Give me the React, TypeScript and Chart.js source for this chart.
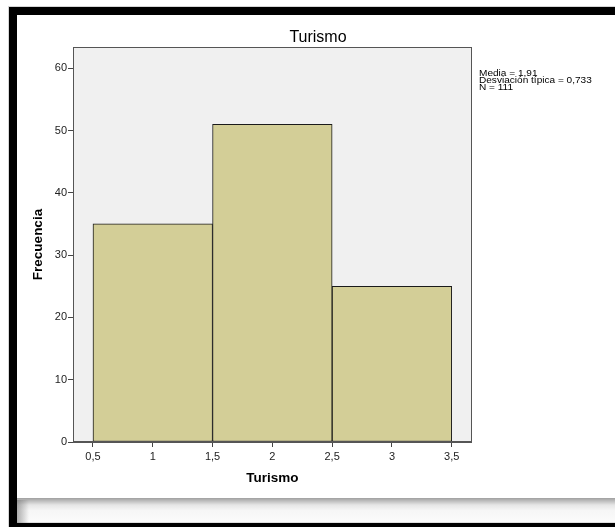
import React, { useEffect, useRef } from 'react';
import { Chart, registerables } from 'chart.js';

Chart.register(...registerables);

const BIN_CENTERS = [1, 2, 3];
const COUNTS = [35, 51, 25];
const X_TICKS = [0.5, 1, 1.5, 2, 2.5, 3, 3.5];
const Y_TICKS = [0, 10, 20, 30, 40, 50, 60];
const X_RANGE = [0.333, 3.667];
const Y_RANGE = [0, 63.4];
const TITLE = 'Turismo';
const X_TITLE = 'Turismo';
const Y_TITLE = 'Frecuencia';
const STATS_LINES = ['Media = 1,91', 'Desviación típica = 0,733', 'N = 111'];

const FAMILY = '"Liberation Sans", Arial, sans-serif';

const framePlugin = {
  id: 'spssFrame',
  beforeDraw(chart: any) {
    const ctx = chart.ctx as CanvasRenderingContext2D;
    const W = chart.width;
    const H = chart.height;
    ctx.save();
    ctx.fillStyle = '#ffffff';
    ctx.fillRect(0, 0, W, H);
    // bottom shadow band
    const g = ctx.createLinearGradient(0, 498, 0, 523);
    g.addColorStop(0, '#a0a0a0');
    g.addColorStop(0.28, '#e6e6e6');
    g.addColorStop(0.5, '#f6f6f6');
    g.addColorStop(0.94, '#fbfbfb');
    g.addColorStop(1, '#d0d0d0');
    ctx.fillStyle = g;
    ctx.fillRect(17, 498, W - 17, 25);
    const g2 = ctx.createLinearGradient(17, 0, 29, 0);
    g2.addColorStop(0, 'rgba(110,110,110,0.55)');
    g2.addColorStop(1, 'rgba(110,110,110,0)');
    ctx.fillStyle = g2;
    ctx.fillRect(17, 500, 12, 23);
    // faint outer lines
    ctx.fillStyle = '#d6d6d6';
    ctx.fillRect(8, 6, W - 8, 1);
    ctx.fillRect(8, 6, 1, H - 6);
    // black frame
    ctx.fillStyle = '#000000';
    ctx.fillRect(9, 7, W - 9, 8);
    ctx.fillRect(9, 7, 8, H - 7);
    ctx.fillRect(9, 523, W - 9, 4);
    // plot background
    const a = chart.chartArea;
    ctx.fillStyle = '#f0f0f0';
    ctx.fillRect(a.left, a.top, a.right - a.left, a.bottom - a.top);
    ctx.restore();
  },
  afterDraw(chart: any) {
    const ctx = chart.ctx as CanvasRenderingContext2D;
    const a = chart.chartArea;
    ctx.save();
    ctx.strokeStyle = '#555555';
    ctx.lineWidth = 1;
    const l = Math.round(a.left) + 0.5;
    const t = Math.round(a.top) + 0.5;
    const r = Math.round(a.right) - 0.5;
    const b = Math.round(a.bottom) - 0.5;
    ctx.strokeRect(l, t, r - l, b - t);
    // title
    ctx.fillStyle = '#000000';
    ctx.font = `16px ${FAMILY}`;
    ctx.textAlign = 'center';
    ctx.textBaseline = 'alphabetic';
    ctx.fillText(TITLE, 318, 41.5);
    // stats
    ctx.font = `9.5px ${FAMILY}`;
    ctx.textAlign = 'left';
    STATS_LINES.forEach((s, i) => {
      ctx.save();
      ctx.translate(479, 76 + i * 7);
      ctx.scale(1.06, 1);
      ctx.fillText(s, 0, 0);
      ctx.restore();
    });
    ctx.restore();
  },
};

export default function App() {
  const ref = useRef<HTMLCanvasElement>(null);

  useEffect(() => {
    if (!ref.current) return;
    const tickFont = { family: FAMILY, size: 11 };
    const titleFont = { family: FAMILY, size: 13.5, weight: 'bold' as const };
    const chart = new Chart(ref.current, {
      type: 'bar',
      data: {
        datasets: [
          {
            data: BIN_CENTERS.map((x, i) => ({ x, y: COUNTS[i] })),
            backgroundColor: '#D3CE97',
            borderColor: '#1a1a1a',
            borderWidth: 1,
            borderSkipped: false,
            barThickness: 'flex',
            barPercentage: 1,
            categoryPercentage: 1,
          },
        ],
      },
      options: {
        animation: false,
        responsive: false,
        devicePixelRatio: 1,
        events: [],
        layout: { padding: { left: 17, top: 47, right: 143.3, bottom: 29 } },
        plugins: {
          legend: { display: false },
          tooltip: { enabled: false },
          title: { display: false },
        },
        scales: {
          x: {
            type: 'linear',
            min: X_RANGE[0],
            max: X_RANGE[1],
            offset: false,
            grid: {
              offset: false,
              display: true,
              drawOnChartArea: false,
              drawTicks: true,
              tickLength: 5,
              color: '#444444',
            },
            border: { display: true, color: '#555555', width: 1 },
            afterBuildTicks: (s: any) => {
              s.ticks = X_TICKS.map((v) => ({ value: v }));
            },
            afterFit: (s: any) => {
              s.height = 56;
            },
            ticks: {
              autoSkip: false,
              maxRotation: 0,
              padding: 3,
              color: '#222222',
              font: tickFont,
              callback: (v: any) => String(v).replace('.', ','),
            },
            title: {
              display: true,
              text: X_TITLE,
              color: '#000000',
              font: titleFont,
              padding: { top: 0, bottom: 11.9 },
            },
          },
          y: {
            type: 'linear',
            min: Y_RANGE[0],
            max: Y_RANGE[1],
            grid: {
              display: true,
              drawOnChartArea: false,
              drawTicks: true,
              tickLength: 5,
              color: '#444444',
            },
            border: { display: true, color: '#555555', width: 1 },
            afterBuildTicks: (s: any) => {
              s.ticks = Y_TICKS.map((v) => ({ value: v }));
            },
            afterFit: (s: any) => {
              s.width = 56;
            },
            ticks: {
              autoSkip: false,
              padding: 1,
              color: '#222222',
              font: tickFont,
              callback: (v: any) => String(v),
            },
            title: {
              display: true,
              text: Y_TITLE,
              color: '#000000',
              font: titleFont,
              padding: { top: 12.9, bottom: 0 },
            },
          },
        },
      },
      plugins: [framePlugin],
    } as any);
    return () => chart.destroy();
  }, []);

  return (
    <div style={{ position: 'absolute', left: 0, top: 0, width: 615, height: 527 }}>
      <canvas ref={ref} width={615} height={527} style={{ display: 'block', width: 615, height: 527 }} />
    </div>
  );
}
